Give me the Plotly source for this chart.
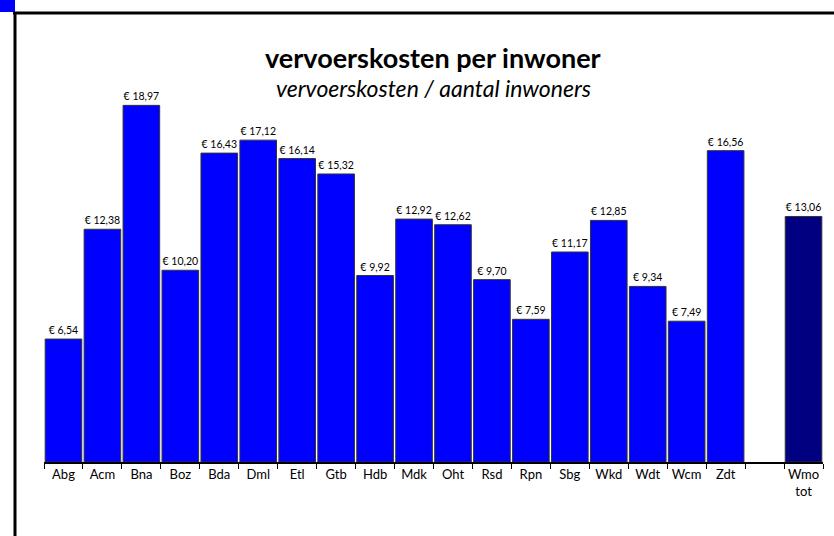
import plotly.graph_objects as go

categories = ["Abg", "Acm", "Bna", "Boz", "Bda", "Dml", "Etl", "Gtb", "Hdb", "Mdk",
              "Oht", "Rsd", "Rpn", "Sbg", "Wkd", "Wdt", "Wcm", "Zdt", " ", "Wmo<br>tot"]
values = [6.54, 12.38, 18.97, 10.20, 16.43, 17.12, 16.14, 15.32, 9.92, 12.92,
          12.62, 9.70, 7.59, 11.17, 12.85, 9.34, 7.49, 16.56, None, 13.06]
colors = ["#0000FF"] * 18 + ["#0000FF", "#000080"]

labels = ["" if v is None else "€ " + f"{v:.2f}".replace(".", ",") for v in values]

W, H = 834, 536
ml, mr, mt, mb = 44, 11, 86, 74
pw, ph = W - ml - mr, H - mt - mb

def px(x):
    return (x - ml) / pw

def py(y):
    return (H - mb - y) / ph

fig = go.Figure()
fig.add_trace(go.Bar(
    x=categories, y=values,
    marker=dict(color=colors, line=dict(color="#333333", width=1)),
    text=labels, textposition="outside", cliponaxis=False,
    textfont=dict(family="Lato, Open Sans, sans-serif", size=10.5, color="#000000"),
    hoverinfo="skip",
))

fig.update_layout(
    width=W, height=H,
    margin=dict(l=ml, r=mr, t=mt, b=mb),
    paper_bgcolor="white", plot_bgcolor="white",
    showlegend=False, bargap=0.06,
    font=dict(family="Lato, Open Sans, sans-serif", color="#000000"),
    xaxis=dict(type="category", showline=True, linecolor="#000000", linewidth=1.5,
               ticks="outside", tickson="boundaries", ticklen=5, tickcolor="#000000",
               tickangle=0, tickfont=dict(size=13), showgrid=False, range=[-0.5, 19.5]),
    yaxis=dict(visible=False, range=[0, 20], showgrid=False),
    annotations=[
        dict(text="<b>vervoerskosten per inwoner</b>", x=px(433), y=py(58),
             xref="paper", yref="paper", showarrow=False, xanchor="center", yanchor="middle",
             font=dict(size=27, family="Lato, Open Sans, sans-serif")),
        dict(text="<i>vervoerskosten / aantal inwoners</i>", x=px(433), y=py(88),
             xref="paper", yref="paper", showarrow=False, xanchor="center", yanchor="middle",
             font=dict(size=23, family="Lato, Open Sans, sans-serif")),
    ],
    shapes=[
        dict(type="rect", xref="paper", yref="paper", x0=px(0), x1=px(15), y0=py(0), y1=py(12),
             fillcolor="#0000FF", line=dict(width=0), layer="above"),
        dict(type="line", xref="paper", yref="paper", x0=px(13), x1=px(834), y0=py(13), y1=py(13),
             line=dict(color="#000000", width=3)),
        dict(type="line", xref="paper", yref="paper", x0=px(15), x1=px(15), y0=py(12), y1=py(536),
             line=dict(color="#000000", width=3)),
    ],
)

fig.write_html("out.html", config={"displayModeBar": False},
               post_script="document.body.style.margin='0';")
